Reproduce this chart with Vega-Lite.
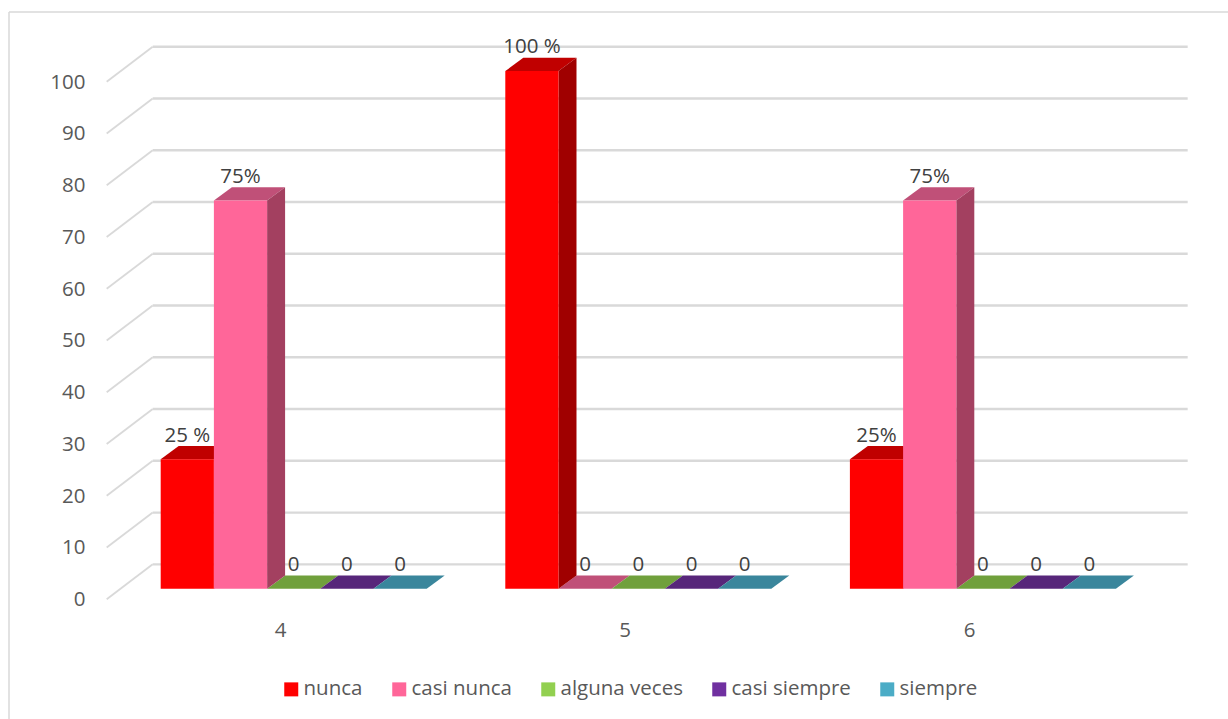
{"$schema":"https://vega.github.io/schema/vega-lite/v6.json","width":1219,"height":707,"autosize":{"type":"none"},"padding":{"left":9,"top":12,"right":0,"bottom":0},"background":"white","config":{"view":{"stroke":null},"font":"Open Sans"},"datasets":{"niveles":[{"nivel":0},{"nivel":10},{"nivel":20},{"nivel":30},{"nivel":40},{"nivel":50},{"nivel":60},{"nivel":70},{"nivel":80},{"nivel":90},{"nivel":100}]},"data":{"values":[{"grupo":4,"serie":"nunca","valor":25,"etiqueta":"25 %"},{"grupo":4,"serie":"casi nunca","valor":75,"etiqueta":"75%"},{"grupo":4,"serie":"alguna veces","valor":0,"etiqueta":"0"},{"grupo":4,"serie":"casi siempre","valor":0,"etiqueta":"0"},{"grupo":4,"serie":"siempre","valor":0,"etiqueta":"0"},{"grupo":5,"serie":"nunca","valor":100,"etiqueta":"100 %"},{"grupo":5,"serie":"casi nunca","valor":0,"etiqueta":"0"},{"grupo":5,"serie":"alguna veces","valor":0,"etiqueta":"0"},{"grupo":5,"serie":"casi siempre","valor":0,"etiqueta":"0"},{"grupo":5,"serie":"siempre","valor":0,"etiqueta":"0"},{"grupo":6,"serie":"nunca","valor":25,"etiqueta":"25%"},{"grupo":6,"serie":"casi nunca","valor":75,"etiqueta":"75%"},{"grupo":6,"serie":"alguna veces","valor":0,"etiqueta":"0"},{"grupo":6,"serie":"casi siempre","valor":0,"etiqueta":"0"},{"grupo":6,"serie":"siempre","valor":0,"etiqueta":"0"}]},"transform":[{"calculate":"indexof(['nunca','casi nunca','alguna veces','casi siempre','siempre'],datum.serie)","as":"i"},{"calculate":"datum.grupo+(datum.i*53.2-119.3)/344.6","as":"xa"},{"calculate":"datum.xa+0.1544","as":"xb"},{"calculate":"(datum.xa+datum.xb)/2","as":"xc"},{"calculate":"datum.valor+4.6","as":"yt"}],"layer":[{"data":{"name":"niveles"},"transform":[{"calculate":"datum.nivel-2.05","as":"yf"},{"calculate":"datum.nivel+4.71","as":"yw"}],"mark":{"type":"rule","color":"#d9d9d9","strokeWidth":1.8},"encoding":{"x":{"datum":3.4971,"type":"quantitative","scale":{"domain":[3.2136,6.751],"nice":false,"zero":false},"axis":{"values":[4,5,6],"format":"d","title":null,"ticks":false,"domain":false,"grid":false,"offset":-99,"labelPadding":0,"labelFont":"Open Sans","labelFontSize":20.5,"labelColor":"#595959"}},"x2":{"datum":3.6306},"y":{"field":"yf","type":"quantitative","scale":{"domain":[-25.17,111.42],"nice":false,"zero":false},"axis":{"values":[0,10,20,30,40,50,60,70,80,90,100],"title":null,"ticks":false,"domain":false,"grid":false,"offset":-76,"labelPadding":0,"labelOffset":11,"labelFont":"Open Sans","labelFontSize":20.5,"labelColor":"#595959"}},"y2":{"field":"yw"}}},{"data":{"name":"niveles"},"transform":[{"calculate":"datum.nivel+4.71","as":"yw"}],"mark":{"type":"rule","color":"#d9d9d9","strokeWidth":2.4},"encoding":{"x":{"datum":3.6306,"type":"quantitative"},"x2":{"datum":6.634},"y":{"field":"yw","type":"quantitative"}}},{"data":{"values":[{"borde":"izquierdo"}]},"mark":{"type":"rule","color":"#d9d9d9","strokeWidth":1.5},"encoding":{"x":{"datum":3.2136,"type":"quantitative"},"y":{"datum":-25.17,"type":"quantitative"},"y2":{"datum":111.42}}},{"data":{"values":[{"borde":"superior"}]},"mark":{"type":"rule","color":"#d9d9d9","strokeWidth":1.5},"encoding":{"x":{"datum":3.2136,"type":"quantitative"},"x2":{"datum":6.751},"y":{"datum":111.42,"type":"quantitative"}}},{"transform":[{"calculate":"[0,1]","as":"p"},{"flatten":["p"]},{"calculate":"datum.xa+datum.p*0.0522","as":"tx"},{"calculate":"datum.xb+datum.p*0.0522","as":"tx2"},{"calculate":"datum.valor+datum.p*2.57","as":"ty"}],"mark":{"type":"area","orient":"horizontal","opacity":1},"encoding":{"x":{"field":"tx","type":"quantitative","stack":null},"x2":{"field":"tx2"},"y":{"field":"ty","type":"quantitative"},"detail":{"field":"grupo"},"color":{"field":"serie","type":"nominal","legend":null,"scale":{"domain":["nunca","casi nunca","alguna veces","casi siempre","siempre"],"range":["#c00000","#c05078","#70a03c","#57267a","#3a869c"]}}}},{"transform":[{"calculate":"[0,1]","as":"p"},{"flatten":["p"]},{"calculate":"datum.xb+datum.p*0.0522","as":"sx"},{"calculate":"datum.valor+datum.p*2.57","as":"sy"},{"calculate":"datum.p*2.57","as":"sy2"}],"mark":{"type":"area","opacity":1},"encoding":{"x":{"field":"sx","type":"quantitative"},"y":{"field":"sy","type":"quantitative","stack":null},"y2":{"field":"sy2"},"detail":{"field":"grupo"},"color":{"field":"serie","type":"nominal","legend":null,"scale":{"domain":["nunca","casi nunca","alguna veces","casi siempre","siempre"],"range":["#a00000","#a34060","#70a03c","#57267a","#3a869c"]}}}},{"mark":{"type":"rect","opacity":1},"encoding":{"x":{"field":"xa","type":"quantitative"},"x2":{"field":"xb"},"y":{"field":"valor","type":"quantitative"},"y2":{"datum":0},"color":{"field":"serie","type":"nominal","scale":{"domain":["nunca","casi nunca","alguna veces","casi siempre","siempre"],"range":["#ff0000","#ff6699","#92d050","#7030a0","#4bacc6"]},"legend":{"orient":"none","legendX":272,"legendY":667,"direction":"horizontal","columns":5,"title":null,"symbolType":"square","symbolSize":196,"symbolStrokeWidth":0,"symbolOpacity":1,"labelFont":"Open Sans","labelFontSize":20.5,"labelColor":"#595959","labelOffset":2,"columnPadding":26}}}},{"mark":{"type":"text","font":"Open Sans","fontSize":20.5,"fill":"#404040","baseline":"middle","align":"center"},"encoding":{"x":{"field":"xc","type":"quantitative"},"y":{"field":"yt","type":"quantitative"},"text":{"field":"etiqueta","type":"nominal"}}}],"resolve":{"scale":{"color":"independent"}}}
